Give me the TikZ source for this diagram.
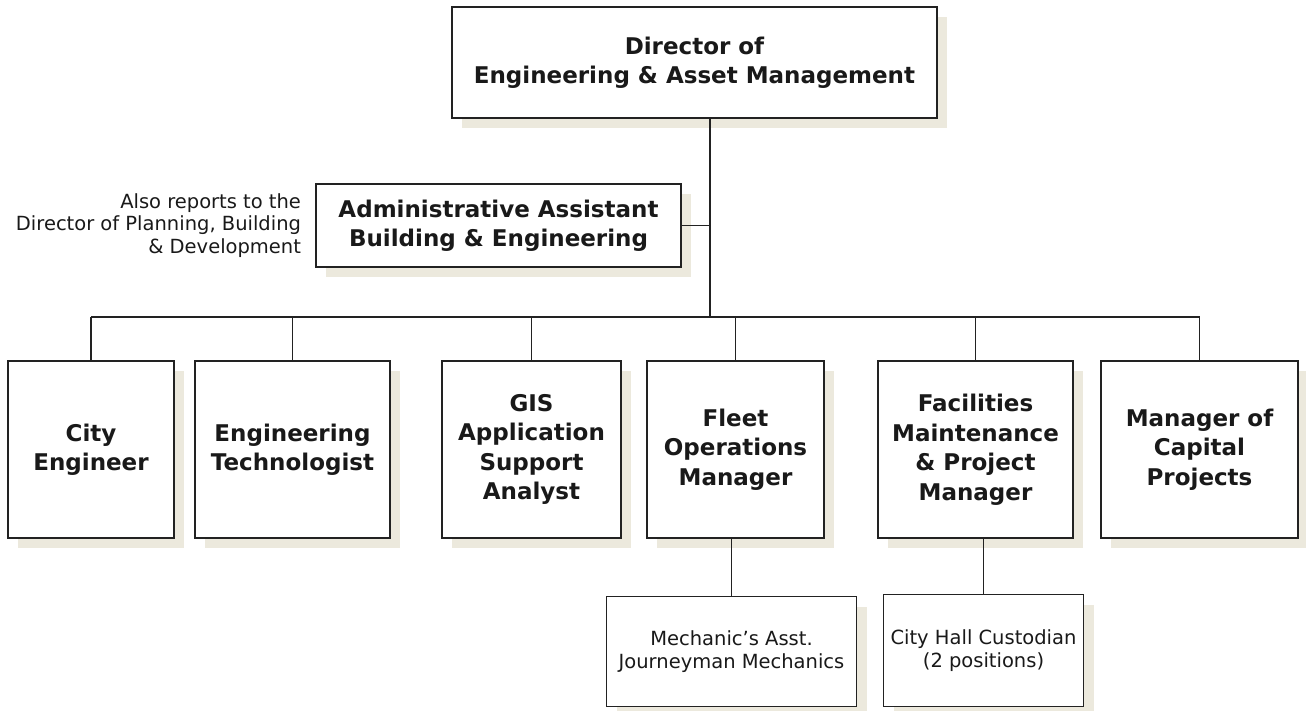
\documentclass[tikz,border=0pt]{standalone}
\usepackage{fontspec}
\setmainfont{DejaVu Sans}
\usepackage{tikz}
\usetikzlibrary{positioning,shadows}

\definecolor{shadowbeige}{RGB}{236,233,221}
\definecolor{boxline}{RGB}{34,34,34}

\begin{document}
\begin{tikzpicture}[x=1pt, y=-1pt, node distance=55pt,
    box/.style={rectangle, draw=boxline, line width=1.6pt, fill=white, align=center, inner sep=0pt,
        text=black!90, font=\fontsize{23}{29.5}\selectfont\bfseries,
        drop shadow={shadow xshift=10pt, shadow yshift=-10pt, fill=shadowbeige, opacity=1}},
    subbox/.style={box, font=\fontsize{19.5}{23.5}\selectfont},
    link/.style={draw=boxline, line width=1.4pt}]
    \useasboundingbox (0,0) rectangle (1306,710);
    \node[box, minimum width=485pt, minimum height=111pt] (director) at (694.5,62.5) {Director of\\Engineering \& Asset Management};
    \node[box, minimum width=365pt, minimum height=83pt] (admin) at (498.5,225.5) {Administrative Assistant\\Building \& Engineering};
    \node[left=14pt of admin, align=right, inner sep=0pt, text=black!90, font=\fontsize{19.5}{22.5}\selectfont] (note) {Also reports to the\\Director of Planning, Building\\\& Development};
    \node[box, minimum width=166pt, minimum height=177pt] (cityeng) at (91,449.5) {City\\Engineer};
    \node[box, minimum width=195pt, minimum height=177pt] (engtech) at (292.5,449.5) {Engineering\\Technologist};
    \node[box, minimum width=179pt, minimum height=177pt] (gis) at (531.5,449.5) {GIS\\Application\\Support\\Analyst};
    \node[box, minimum width=177pt, minimum height=177pt] (fleet) at (735.5,449.5) {Fleet\\Operations\\Manager};
    \node[box, minimum width=195pt, minimum height=177pt] (facilities) at (975.5,449.5) {Facilities\\Maintenance\\\& Project\\Manager};
    \node[box, minimum width=197pt, minimum height=177pt] (capital) at (1199.5,449.5) {Manager of\\Capital\\Projects};
    \node[subbox, minimum width=250pt, minimum height=110pt, below=57pt of fleet, xshift=-4pt] (mechanic) {Mechanic’s Asst.\\Journeyman Mechanics};
    \node[subbox, minimum width=200pt, minimum height=112pt, below=55pt of facilities, xshift=8pt] (custodian) {City Hall Custodian\\(2 positions)};
    \coordinate (trunk) at (710,317);

    \draw[link] (director.south -| trunk) -- (trunk);
    \draw[link] (admin.east) -- (admin.east -| trunk);
    \draw[link] (cityeng.north |- trunk) -- (capital.north |- trunk);
    \draw[link] (cityeng.north |- trunk) -- (cityeng.north);
    \draw[link] (engtech.north |- trunk) -- (engtech.north);
    \draw[link] (gis.north |- trunk) -- (gis.north);
    \draw[link] (fleet.north |- trunk) -- (fleet.north);
    \draw[link] (facilities.north |- trunk) -- (facilities.north);
    \draw[link] (capital.north |- trunk) -- (capital.north);
    \draw[link] (mechanic.north |- fleet.south) -- (mechanic.north);
    \draw[link] (custodian.north |- facilities.south) -- (custodian.north);
\end{tikzpicture}
\end{document}
